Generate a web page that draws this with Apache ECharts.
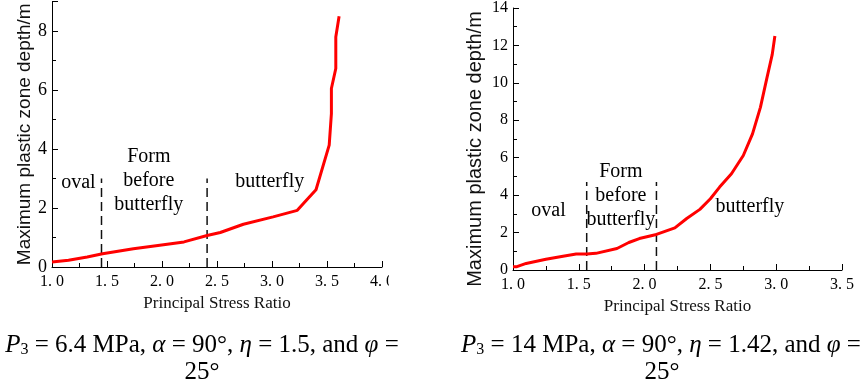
<!DOCTYPE html>
<html>
<head>
<meta charset="utf-8">
<script src="https://cdn.jsdelivr.net/npm/echarts@6/dist/echarts.min.js"></script>
<style>
  html, body { margin: 0; padding: 0; background: #fff; }
  #chart { width: 865px; height: 387px; }
</style>
</head>
<body>
<div id="chart"></div>
<script>
// left panel: P3 = 6.4 MPa
var leftRatio = [1.0, 1.15, 1.32, 1.46, 1.74, 1.98, 2.2, 2.41, 2.53, 2.74, 3.01, 3.23, 3.3, 3.4, 3.52, 3.54, 3.54, 3.58, 3.58, 3.61];
var leftDepth = [0.17, 0.23, 0.34, 0.45, 0.62, 0.74, 0.85, 1.07, 1.17, 1.45, 1.7, 1.92, 2.21, 2.62, 4.13, 5.2, 6.05, 6.73, 7.8, 8.5];
var leftBounds = [1.45, 2.41];
var leftBoundTop = 3;

// right panel: P3 = 14 MPa
var rightRatio = [1.0, 1.03, 1.1, 1.25, 1.38, 1.48, 1.56, 1.63, 1.79, 1.88, 1.96, 2.09, 2.23, 2.32, 2.42, 2.5, 2.57, 2.66, 2.75, 2.82, 2.88, 2.93, 2.97, 2.99];
var rightDepth = [0.18, 0.18, 0.35, 0.57, 0.74, 0.85, 0.85, 0.89, 1.15, 1.47, 1.68, 1.9, 2.25, 2.75, 3.24, 3.81, 4.43, 5.14, 6.12, 7.27, 8.69, 10.28, 11.52, 12.5];
var rightBounds = [1.56, 2.09];
var rightBoundTop = 4.7;

// zone labels [x, y, text]
var leftZones = [[1.24, 2.85, 'oval'], [1.88, 2.92, 'Form\nbefore\nbutterfly'], [2.98, 2.88, 'butterfly']];
var rightZones = [[1.27, 3.14, 'oval'], [1.82, 3.99, 'Form\nbefore\nbutterfly'], [2.8, 3.37, 'butterfly']];

var xName = 'Principal Stress Ratio';
var yName = 'Maximum plastic zone depth/m';

function pairs(xs, ys) {
    return xs.map(function (x, i) { return [x, ys[i]]; });
}

function xAxisFor(idx, max) {
    return {
        type: 'value', gridIndex: idx, min: 1, max: max, interval: 0.5,
        name: xName, nameLocation: 'middle', nameGap: 28,
        nameTextStyle: { fontFamily: 'Liberation Serif', fontSize: 17, color: '#111' },
        axisLine: { lineStyle: { color: '#000', width: 1 } },
        axisTick: { inside: true, length: 6, lineStyle: { color: '#000' } },
        minorTick: { show: true, splitNumber: 2, length: 4, lineStyle: { color: '#000' } },
        splitLine: { show: false },
        axisLabel: {
            margin: 7, fontFamily: 'Liberation Serif', fontSize: 16, color: '#000',
            formatter: function (v) { return v.toFixed(1).replace('.', '. '); }
        }
    };
}

function yAxisFor(idx, max, nameSize, gap, labelSize, namePad) {
    return {
        type: 'value', gridIndex: idx, min: 0, max: max, interval: 2,
        name: yName, nameLocation: 'middle', nameGap: gap,
        nameTextStyle: { fontFamily: 'Liberation Sans', fontSize: nameSize, color: '#111', padding: namePad },
        axisLine: { show: true, lineStyle: { color: '#000', width: 1 } },
        axisTick: { inside: true, length: 6, lineStyle: { color: '#000' } },
        minorTick: { show: true, splitNumber: 2, length: 4, lineStyle: { color: '#000' } },
        splitLine: { show: false },
        axisLabel: {
            margin: 5, fontFamily: 'Liberation Serif', fontSize: labelSize, color: '#000',
            formatter: function (v) { return v % 2 === 0 ? String(v) : ''; }
        }
    };
}

function boundSeries(idx, x, top) {
    return {
        type: 'line', xAxisIndex: idx, yAxisIndex: idx, symbol: 'none', silent: true,
        data: [[x, 0], [x, top]],
        lineStyle: { color: '#111', width: 1.5, type: [9, 5] }
    };
}

function zoneSeries(idx, zones) {
    return {
        type: 'scatter', xAxisIndex: idx, yAxisIndex: idx, symbolSize: 0, silent: true,
        data: zones.map(function (z) { return { value: [z[0], z[1]], name: z[2] }; }),
        itemStyle: { color: '#000', opacity: 1 },
        label: {
            show: true, position: 'inside', formatter: '{b}',
            fontFamily: 'Liberation Serif', fontSize: 20, lineHeight: 24, color: '#000',
            textBorderWidth: 0, textBorderColor: 'transparent'
        }
    };
}

function curveSeries(idx, xs, ys) {
    return {
        type: 'line', xAxisIndex: idx, yAxisIndex: idx, symbol: 'none', silent: true,
        data: pairs(xs, ys),
        lineStyle: { color: '#ff0000', width: 3 }
    };
}

var chart = echarts.init(document.getElementById('chart'));

var captionRich = {
    i: { fontFamily: 'Liberation Serif', fontStyle: 'italic', fontSize: 25, fill: '#000' },
    s: { fontFamily: 'Liberation Serif', fontSize: 16, fill: '#000', verticalAlign: 'bottom', padding: [10, 0, 0, 0] }
};

chart.setOption({
    animation: false,
    backgroundColor: '#fff',
    grid: [
        { left: 52, right: 483, top: 1.5, bottom: 120 },
        { left: 513, right: 23, top: 7, bottom: 117 }
    ],
    xAxis: [xAxisFor(0, 4), xAxisFor(1, 3.5)],
    yAxis: [yAxisFor(0, 9, 19, 16, 18, 0), yAxisFor(1, 14, 20, 28, 16, [0, 20, 0, 0])],
    series: [
        boundSeries(0, leftBounds[0], leftBoundTop),
        boundSeries(0, leftBounds[1], leftBoundTop),
        zoneSeries(0, leftZones),
        curveSeries(0, leftRatio, leftDepth),
        boundSeries(1, rightBounds[0], rightBoundTop),
        boundSeries(1, rightBounds[1], rightBoundTop),
        zoneSeries(1, rightZones),
        curveSeries(1, rightRatio, rightDepth)
    ],
    graphic: [
        // the source image is cut just after the "4." label
        { type: 'rect', left: 389, top: 272, shape: { width: 30, height: 22 }, style: { fill: '#fff' }, z: 100 },
        {
            type: 'text', x: 202, y: 345, z: 100,
            style: {
                text: '{i|P}{s|3} = 6.4 MPa, {i|α} = 90°, {i|η} = 1.5, and {i|φ} =',
                fontFamily: 'Liberation Serif', fontSize: 25, fill: '#000',
                align: 'center', verticalAlign: 'middle', rich: captionRich
            }
        },
        {
            type: 'text', x: 202, y: 372, z: 100,
            style: { text: '25°', fontFamily: 'Liberation Serif', fontSize: 25, fill: '#000', align: 'center', verticalAlign: 'middle' }
        },
        {
            type: 'text', x: 661, y: 345, z: 100,
            style: {
                text: '{i|P}{s|3} = 14 MPa, {i|α} = 90°, {i|η} = 1.42, and {i|φ} =',
                fontFamily: 'Liberation Serif', fontSize: 25, fill: '#000',
                align: 'center', verticalAlign: 'middle', rich: captionRich
            }
        },
        {
            type: 'text', x: 662, y: 372, z: 100,
            style: { text: '25°', fontFamily: 'Liberation Serif', fontSize: 25, fill: '#000', align: 'center', verticalAlign: 'middle' }
        }
    ]
});
</script>
</body>
</html>
